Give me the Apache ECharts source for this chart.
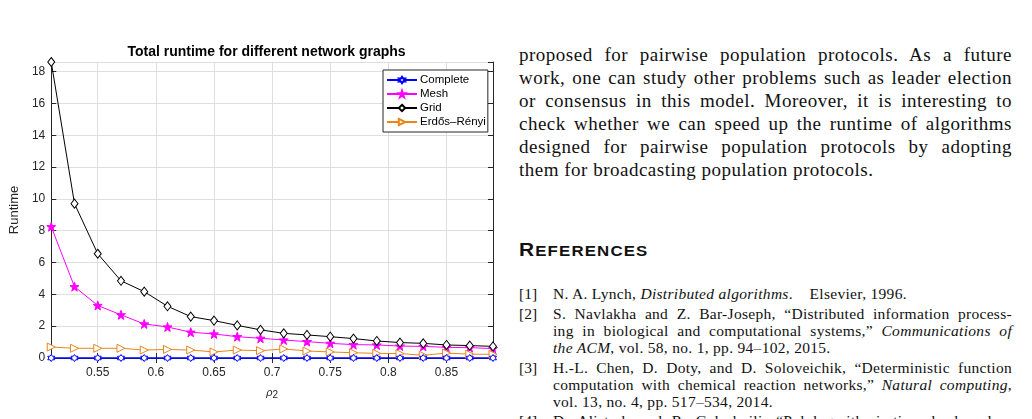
<!DOCTYPE html>
<html>
<head>
<meta charset="utf-8">
<script src="https://cdn.jsdelivr.net/npm/echarts@6/dist/echarts.min.js"></script>
<style>
    html, body { margin: 0; padding: 0; background: #fff; width: 1032px; height: 419px; overflow: hidden; }
    #chart { position: absolute; left: 0; top: 0; width: 500px; height: 419px; }
    .txt { position: absolute; font-family: "Liberation Serif", "DejaVu Serif", serif; color: #111; }
    .para div { position: absolute; left: 0; width: 493px; font-size: 19px; letter-spacing: 0.5px; line-height: 23px; text-align: justify; text-align-last: justify; white-space: nowrap; }
    .para div.last { text-align-last: left; }
    .refs div { position: absolute; font-size: 15.5px; letter-spacing: 0.3px; line-height: 17px; white-space: nowrap; }
    .refs .lab { left: 0; letter-spacing: 0; }
    .refs .ln { left: 34px; width: 459px; text-align: justify; text-align-last: justify; }
    .refs .ln.last { text-align-last: left; }
    #head { position: absolute; left: 519px; top: 240px; font-family: "Liberation Sans", Arial, sans-serif; font-weight: bold; color: #111; letter-spacing: 1px; transform: scaleX(1.16); transform-origin: left center; white-space: nowrap; }
    #head .big { font-size: 18px; }
    #head .sm { font-size: 14.5px; }
</style>
</head>
<body>
<div id="chart"></div>

<div class="txt para" style="left:519px; top:43px;">
    <div style="top:0px">proposed for pairwise population protocols. As a future</div>
    <div style="top:23px">work, one can study other problems such as leader election</div>
    <div style="top:46px">or consensus in this model. Moreover, it is interesting to</div>
    <div style="top:69px">check whether we can speed up the runtime of algorithms</div>
    <div style="top:92px">designed for pairwise population protocols by adopting</div>
    <div class="last" style="top:115px">them for broadcasting population protocols.</div>
</div>

<div id="head"><span class="big">R</span><span class="sm">EFERENCES</span></div>

<div class="txt refs" style="left:519px; top:285px;">
    <div class="lab" style="top:0px">[1]</div>
    <div class="ln last" style="top:0px">N. A. Lynch, <i>Distributed algorithms</i>.&nbsp;&nbsp;&nbsp; Elsevier, 1996.</div>
    <div class="lab" style="top:20px">[2]</div>
    <div class="ln" style="top:20px">S. Navlakha and Z. Bar-Joseph, “Distributed information process-</div>
    <div class="ln" style="top:37px">ing in biological and computational systems,” <i>Communications of</i></div>
    <div class="ln last" style="top:54px"><i>the ACM</i>, vol. 58, no. 1, pp. 94–102, 2015.</div>
    <div class="lab" style="top:74px">[3]</div>
    <div class="ln" style="top:74px">H.-L. Chen, D. Doty, and D. Soloveichik, “Deterministic function</div>
    <div class="ln" style="top:91px">computation with chemical reaction networks,” <i>Natural computing</i>,</div>
    <div class="ln last" style="top:108px">vol. 13, no. 4, pp. 517–534, 2014.</div>
    <div class="lab" style="top:127px">[4]</div>
    <div class="ln" style="top:127px">D. Alistarh and R. Gelashvili, “Polylogarithmic-time leader elec-</div>
</div>

<script>
// rho_2 values (x axis)
var rhoValues = [0.51, 0.53, 0.55, 0.57, 0.59, 0.61, 0.63, 0.65, 0.67, 0.69,
                 0.71, 0.73, 0.75, 0.77, 0.79, 0.81, 0.83, 0.85, 0.87, 0.89];

var completeRuntime = [0, 0, 0, 0, 0, 0, 0, 0, 0, 0,
                       0, 0, 0, 0, 0, 0, 0, 0, 0, 0];
var meshRuntime = [8.25, 4.48, 3.3, 2.71, 2.14, 1.95, 1.62, 1.51, 1.34, 1.24,
                   1.13, 1.03, 0.92, 0.84, 0.82, 0.75, 0.73, 0.67, 0.65, 0.59];
var gridRuntime = [18.6, 9.7, 6.55, 4.85, 4.17, 3.25, 2.6, 2.35, 2.05, 1.77,
                   1.55, 1.45, 1.34, 1.22, 1.07, 0.97, 0.92, 0.82, 0.78, 0.73];
var erdosRuntime = [0.69, 0.61, 0.61, 0.61, 0.5, 0.54, 0.5, 0.38, 0.5, 0.46,
                    0.57, 0.44, 0.38, 0.33, 0.29, 0.28, 0.17, 0.31, 0.24, 0.23];

var xTicks = [0.55, 0.6, 0.65, 0.7, 0.75, 0.8, 0.85];
var seriesNames = ['Complete', 'Mesh', 'Grid', 'Erdős–Rényi'];

var axisColor = '#262626';
var hexagram = 'path://M0,-10L2.9,-5L8.66,-5L5.8,0L8.66,5L2.9,5L0,10L-2.9,5L-8.66,5L-5.8,0L-8.66,-5L-2.9,-5Z';
var pentagram = 'path://M0,-10L2.35,-3.24L9.51,-3.09L3.8,1.24L5.88,8.09L0,4L-5.88,8.09L-3.8,1.24L-9.51,-3.09L-2.35,-3.24Z';
var diamond = 'path://M0,-10L7,0L0,10L-7,0Z';
var triRight = 'path://M-7,-8L8,0L-7,8Z';

function pairs(values) {
    return rhoValues.map(function (x, i) { return [x, values[i]]; });
}

function lineSeries(name, values, color, symbol, size, fill, width) {
    return {
        name: name,
        type: 'line',
        data: pairs(values),
        symbol: symbol,
        symbolSize: size,
        showAllSymbol: true,
        clip: false,
        lineStyle: { color: color, width: width || 1, type: 'solid' },
        itemStyle: { color: fill, borderColor: color, borderWidth: 1 },
        emphasis: { disabled: true },
        animation: false
    };
}

var chart = echarts.init(document.getElementById('chart'));
var option = {
    animation: false,
    aria: { enabled: false },
    textStyle: { fontFamily: '"Liberation Sans", Arial, sans-serif' },
    grid: { left: 41, top: 62, width: 452, height: 296 },
    graphic: [{
        type: 'text',
        x: 266.5, y: 52,
        style: {
            text: 'Total runtime for different network graphs',
            font: 'bold 14px "Liberation Sans", Arial, sans-serif',
            fill: '#000',
            align: 'center',
            verticalAlign: 'middle'
        }
    }],
    legend: {
        orient: 'vertical',
        left: 383, top: 70,
        padding: [3, 2, 3, 3],
        itemGap: 0,
        itemWidth: 30,
        itemHeight: 8,
        backgroundColor: '#fff',
        borderColor: axisColor,
        borderWidth: 1,
        borderRadius: 0,
        textStyle: { fontSize: 11.5, color: '#000', padding: [0, 0, 0, -2], lineHeight: 14 },
        data: seriesNames
    },
    xAxis: [{
        type: 'value',
        min: 0.51, max: 0.89,
        position: 'bottom',
        name: '{r|ρ}{s|2}',
        nameLocation: 'middle',
        nameGap: 27,
        nameTextStyle: {
            rich: {
                r: { fontSize: 11, color: axisColor, fontStyle: 'italic' },
                s: { fontSize: 10, color: axisColor, verticalAlign: 'bottom', padding: [5, 0, 0, 0] }
            }
        },
        axisLine: { lineStyle: { color: axisColor } },
        axisTick: { inside: true, length: 5, customValues: xTicks, lineStyle: { color: axisColor } },
        axisLabel: { customValues: xTicks, color: axisColor, fontSize: 12, margin: 9,
            formatter: function (v) { return String(+v.toFixed(2)); } },
        splitLine: { show: true, lineStyle: { color: '#dedede' } }
    }, {
        type: 'value',
        min: 0.51, max: 0.89,
        position: 'top',
        axisLine: { lineStyle: { color: axisColor } },
        axisTick: { inside: true, length: 5, customValues: xTicks, lineStyle: { color: axisColor } },
        axisLabel: { show: false },
        splitLine: { show: false }
    }],
    yAxis: [{
        type: 'value',
        min: 0, max: 18.6, interval: 2,
        position: 'left',
        name: 'Runtime',
        nameLocation: 'middle',
        nameGap: 22,
        nameTextStyle: { fontSize: 13, color: axisColor },
        axisLine: { show: true, lineStyle: { color: axisColor } },
        axisTick: { inside: true, length: 5, lineStyle: { color: axisColor } },
        axisLabel: { color: axisColor, fontSize: 12, margin: 6, showMaxLabel: false },
        splitLine: { show: true, lineStyle: { color: '#dedede' } }
    }, {
        type: 'value',
        min: 0, max: 18.6, interval: 2,
        position: 'right',
        axisLine: { show: true, lineStyle: { color: axisColor } },
        axisTick: { inside: true, length: 5, lineStyle: { color: axisColor } },
        axisLabel: { show: false },
        splitLine: { show: false }
    }],
    series: [
        lineSeries('Mesh', meshRuntime, '#ff00ff', pentagram, 9, '#ff00ff'),
        lineSeries('Grid', gridRuntime, '#000000', diamond, [7, 9], '#ffffff'),
        lineSeries('Erdős–Rényi', erdosRuntime, '#e8861a', triRight, [8, 8], '#ffffff'),
        lineSeries('Complete', completeRuntime, '#0000ff', hexagram, 7, '#ffffff', 1.5)
    ]
};
chart.setOption(option);
</script>
</body>
</html>
